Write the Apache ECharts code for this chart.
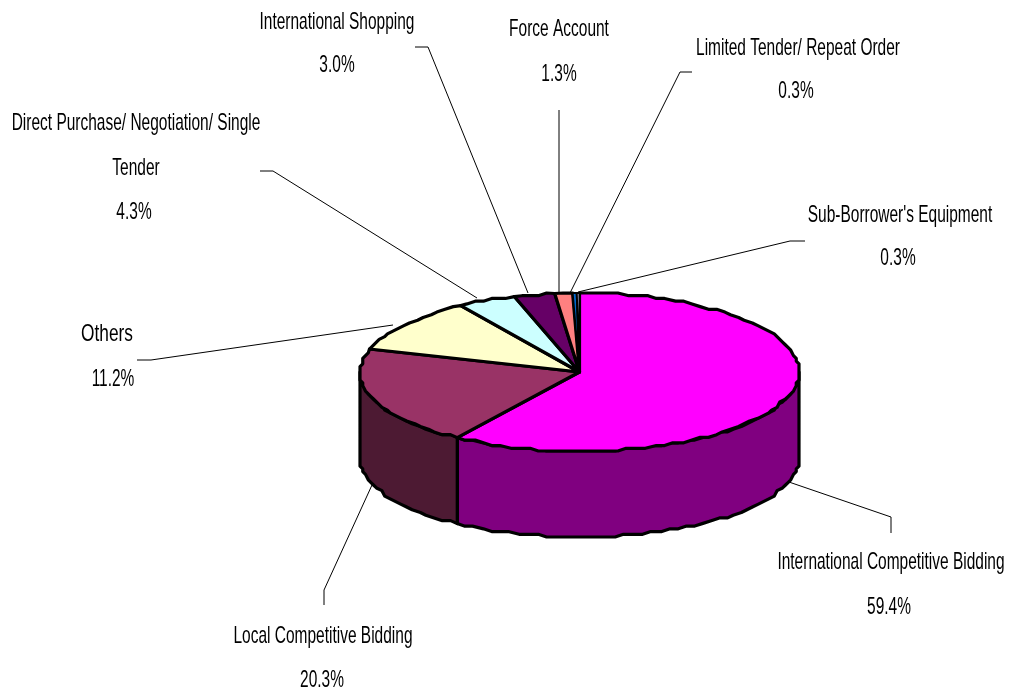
<!DOCTYPE html>
<html><head><meta charset="utf-8">
<style>html,body{margin:0;padding:0;background:#fff}#c{width:1011px;height:692px}</style>
<script src="https://cdn.jsdelivr.net/npm/echarts@6/dist/echarts.min.js"></script></head>
<body><div id="c"></div>
<script>
const categories = ["International Competitive Bidding","Local Competitive Bidding","Others","Direct Purchase/ Negotiation/ Single Tender","International Shopping","Force Account","Limited Tender/ Repeat Order","Sub-Borrower's Equipment"];
const shares = [59.4,20.3,11.2,4.3,3.0,1.3,0.3,0.3];
const percentLabels = ["59.4%","20.3%","11.2%","4.3%","3.0%","1.3%","0.3%","0.3%"];
const topColors = ["#ff00ff","#993366","#ffffcc","#ccffff","#660066","#ff8080","#0066cc","#ccccff"];
const sideColors = ["#800080","#4d1a33","#80805f","#668080","#330033","#804040","#003366","#666680"];

const PIE = {cx:579.5, cy:372, rx:219.5, ry:79, depth:86, gx:219.5/80, gy:79/29};
const textLayout = [
 [[891,562],[889,607]],
 [[323,636],[322,680]],
 [[107,334,0.72],[113,379]],
 [[136,123],[136,168],[134,212]],
 [[337,22],[337,65]],
 [[559,29],[559,74]],
 [[798,48],[796,91]],
 [[900,215],[898,258]]
];
const nameLines = categories.map(c=>c.startsWith("Direct")?["Direct Purchase/ Negotiation/ Single","Tender"]:[c]);
const leaders = [
 [[891,533],[891,517],[786,481]],
 [[324,605],[324,590],[372,485]],
 [[137,360],[151,360],[393,325]],
 [[260,171],[273,171],[477,298]],
 [[415,47],[428,47],[528,293]],
 [[559,110],[559,293]],
 [[692,72],[680,72],[570,293]],
 [[805,241],[790,241],[578,292]]
];
function pt(a,dy){return [PIE.cx+PIE.rx*Math.sin(a), PIE.cy-PIE.ry*Math.cos(a)+(dy||0)];}
function q(p,dy){return [PIE.cx+Math.round((p[0]-PIE.cx)/PIE.gx)*PIE.gx, PIE.cy-PIE.ry+dy+Math.round((p[1]-dy-PIE.cy+PIE.ry)/PIE.gy)*PIE.gy];}
function arc(a0,a1,dy){
  dy=dy||0;const n=Math.max(1,Math.ceil((a1-a0)/0.045));const r=[];
  for(let i=0;i<=n;i++){const p=pt(a0+(a1-a0)*i/n,dy);const c=(i===0||i===n)?p:q(p,dy);
    const l=r[r.length-1];if(!l||l[0]!==c[0]||l[1]!==c[1])r.push(c);}
  return r;
}
const outline={stroke:"#000",lineWidth:3.2,lineJoin:"round"};
function renderItem(params,api){
  const i=params.dataIndex;
  const start=shares.slice(0,i).reduce((a,b)=>a+b,0)/100*2*Math.PI;
  const end=Math.min(start+api.value(0)/100*2*Math.PI,2*Math.PI);
  const children=[];
  children.push({type:"polyline",shape:{points:leaders[i]},style:{fill:null,stroke:"#000",lineWidth:1}});
  const s0=Math.max(start,Math.PI/2), s1=Math.min(end,Math.PI*1.5);
  if(s1>s0){
    const pts=arc(s0,s1,0).concat(arc(s0,s1,PIE.depth).reverse());
    children.push({type:"polygon",shape:{points:pts},style:Object.assign({fill:sideColors[i]},outline)});
  }
  children.push({type:"polygon",shape:{points:[[PIE.cx,PIE.cy]].concat(arc(start,end,0))},
    style:Object.assign({fill:topColors[i]},outline,{lineWidth:i>=6?2:3.2})});
  const lines=nameLines[i].concat([percentLabels[i]]);
  lines.forEach((t,k)=>children.push({type:"text",x:textLayout[i][k][0],y:textLayout[i][k][1],scaleX:textLayout[i][k][2]||0.645,
    style:{text:t,fill:"#000",font:"24px 'Liberation Sans'",align:"center",verticalAlign:"middle"}}));
  return {type:"group",children};
}
const chart=echarts.init(document.getElementById("c"),null,{renderer:"canvas"});
chart.setOption({animation:false,backgroundColor:"#fff",
 series:[{type:"custom",coordinateSystem:"none",renderItem,silent:true,
  data:shares.map((v,i)=>({name:categories[i],value:[v]}))}]});
</script></body></html>
